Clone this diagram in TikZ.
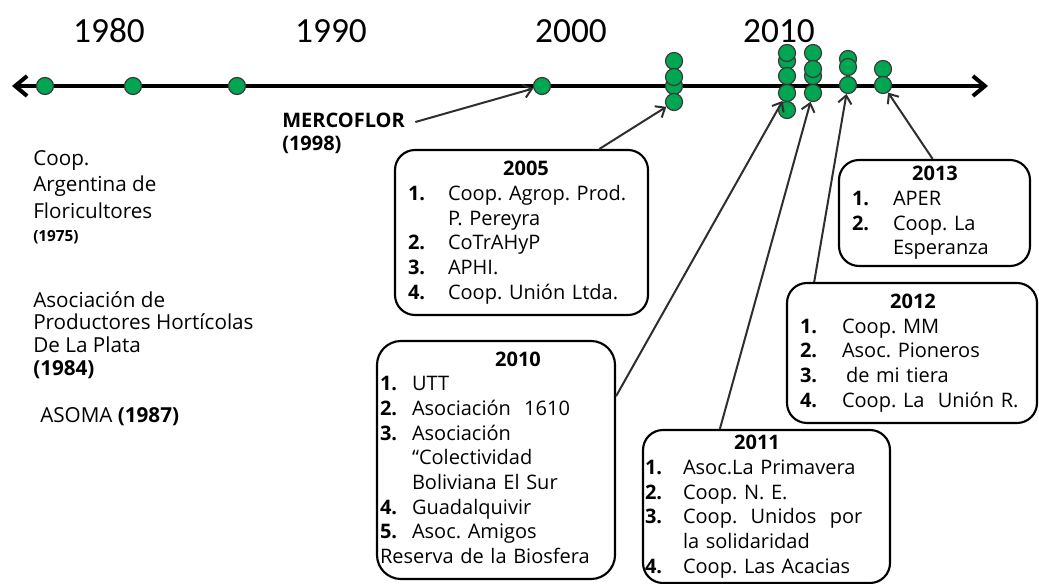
\documentclass[tikz,border=0pt]{standalone}
\usepackage{fontspec}
\setmainfont{Open Sans}
\newfontfamily\yearfont{Carlito}
\usepackage{xcolor}
\usetikzlibrary{arrows.meta}
\definecolor{TimelineGreen}{HTML}{00A651}
\definecolor{DotRim}{HTML}{3A3A3A}
\definecolor{PointerGray}{HTML}{2E2E2E}
\newcommand\boxhead[2]{\multicolumn{2}{@{}l@{}}{\hspace{#1}\makebox[0pt]{\textbf{#2}}}}
\frenchspacing

\tikzset{
  tldot/.style={circle, fill=TimelineGreen, draw=DotRim, line width=0.9pt, minimum size=12.75pt, inner sep=0pt},
  tlyear/.style={font=\yearfont\fontsize{26.5}{30}\selectfont, inner sep=0pt},
  pointer/.style={PointerGray, line width=1.5pt, -{Straight Barb[length=6pt,width=10pt]}},
  orgbox/.style={draw, line width=1.6pt, rounded corners=15pt, inner sep=0pt, align=left, font=\fontsize{15}{18.5}\selectfont},
  orgtext/.style={anchor=north west, align=left, inner sep=0pt}
}

\begin{document}
\begin{tikzpicture}[x=0.75pt,y=-0.75pt]
  \useasboundingbox (0,0) rectangle (1039,584);

  % Years
  \node[tlyear] (y1980) at (109,31) {1980};
  \node[tlyear] (y1990) at (331,31) {1990};
  \node[tlyear] (y2000) at (571,31) {2000};
  \node[tlyear] (y2010) at (779,31) {2010};

  % Timeline
  \coordinate (tlleft) at (12,86);
  \coordinate (tlright) at (988,86);
  \draw[line width=3pt, {Straight Barb[length=9pt,width=15pt]}-{Straight Barb[length=9pt,width=15pt]}] (tlleft) -- (tlright);

  % Single dots
  \node[tldot] (d75) at (45,86) {};
  \node[tldot] (d84) at (133,86) {};
  \node[tldot] (d87) at (237,86) {};
  \node[tldot] (d98) at (542,86) {};

  % 2005 dots
  \node[tldot] (d05c) at (674,86) {};
  \node[tldot] (d05a) at (674,61) {};
  \node[tldot] (d05b) at (674,77) {};
  \node[tldot] (d05d) at (674,102) {};

  % 2010 dots
  \node[tldot] (d10b) at (787,61) {};
  \node[tldot] (d10a) at (787,53) {};
  \node[tldot] (d10c) at (787,76) {};
  \node[tldot] (d10d) at (787,93) {};
  \node[tldot] (d10e) at (787,110) {};

  % 2011 dots
  \node[tldot] (d11c) at (813,76) {};
  \node[tldot] (d11a) at (813,53) {};
  \node[tldot] (d11b) at (813,69) {};
  \node[tldot] (d11d) at (813,93) {};

  % 2012 dots
  \node[tldot] (d12a) at (848,59) {};
  \node[tldot] (d12b) at (848,67) {};
  \node[tldot] (d12c) at (848,85) {};

  % 2013 dots
  \node[tldot] (d13a) at (883,69) {};
  \node[tldot] (d13b) at (883,85) {};

  % Early organisations
  \node[orgtext, font=\fontsize{15.5}{20}\selectfont] (caf) at (33,150)
    {Coop.\\Argentina de\\Floricultores\\[-3pt]{\fontsize{11.5}{13}\selectfont\bfseries (1975)}};
  \node[orgtext, font=\fontsize{15.5}{17}\selectfont] (aph) at (33,291)
    {Asociación de\\Productores Hortícolas\\De La Plata\\\textbf{(1984)}};
  \node[orgtext, anchor=west, font=\fontsize{15.5}{17}\selectfont] (asoma) at (40,417) {ASOMA \textbf{(1987)}};
  \node[orgtext, font=\fontsize{15}{17.25}\selectfont\bfseries] (merco) at (282,113) {MERCOFLOR\\(1998)};

  % 2005 box
  \node[orgbox, text width=189.75pt, minimum height=123.75pt] (b2005) at (521.5,232.5) {\noindent
    \begin{tabular}{@{\hspace{9.75pt}}p{30pt}@{}l@{}}
      \boxhead{98.25pt}{2005}\\
      \textbf{1.} & Coop. Agrop. Prod.\\
                  & P. Pereyra\\
      \textbf{2.} & CoTrAHyP\\
      \textbf{3.} & APHI.\\
      \textbf{4.} & Coop. Unión Ltda.
    \end{tabular}};

  % 2010 box
  \node[orgbox, text width=178.5pt, minimum height=178.5pt, rounded corners=18pt] (b2010) at (496,460) {\noindent
    \begin{tabular}{@{\hspace{2.25pt}}p{24pt}@{}l@{}}
      \boxhead{105.75pt}{2010}\\
      \textbf{1.} & UTT\\
      \textbf{2.} & Asociación\ \ 1610\\
      \textbf{3.} & Asociación\\
                  & “Colectividad\\
                  & Boliviana El Sur\\
      \textbf{4.} & Guadalquivir\\
      \textbf{5.} & Asoc. Amigos\\
      \multicolumn{2}{@{\hspace{2.25pt}}l@{}}{Reserva de la Biosfera}
    \end{tabular}};

  % 2011 box
  \node[orgbox, text width=185.25pt, minimum height=114.75pt] (b2011) at (766.5,506.5) {\noindent
    \begin{tabular}{@{\hspace{1.5pt}}p{28.5pt}@{}l@{}}
      \boxhead{85.5pt}{2011}\\
      \textbf{1.} & Asoc.La Primavera\\
      \textbf{2.} & Coop. N. E.\\
      \textbf{3.} & Coop.\ \ Unidos\ \ por\\
                  & la solidaridad\\
      \textbf{4.} & Coop. Las Acacias
    \end{tabular}};

  % 2012 box
  \node[orgbox, text width=187.5pt, minimum height=105pt] (b2012) at (912,353) {\noindent
    \begin{tabular}{@{\hspace{9.75pt}}p{31.5pt}@{}l@{}}
      \boxhead{94.5pt}{2012}\\
      \textbf{1.} & Coop. MM\\
      \textbf{2.} & Asoc. Pioneros\\
      \textbf{3.} & \hspace{3pt}de mi tiera\\
      \textbf{4.} & Coop. La\ \ Unión R.
    \end{tabular}};

  % 2013 box
  \node[orgbox, text width=143.25pt, minimum height=79.5pt] (b2013) at (934.5,213) {\noindent
    \begin{tabular}{@{\hspace{9.75pt}}p{30.75pt}@{}l@{}}
      \boxhead{72pt}{2013}\\
      \textbf{1.} & APER\\
      \textbf{2.} & Coop. La\\
                  & Esperanza
    \end{tabular}};

  % Pointers
  \draw[pointer, shorten <=8pt] (merco.8) -- (d98);
  \draw[pointer] (b2005.47) -- (d05d);
  \draw[pointer] (b2010.28) -- (d10d);
  \draw[pointer] (b2011.121) -- (d11d);
  \draw[pointer] (b2012.144) -- (d12c);
  \draw[pointer] (b2013.92) -- (d13b);
\end{tikzpicture}
\end{document}
